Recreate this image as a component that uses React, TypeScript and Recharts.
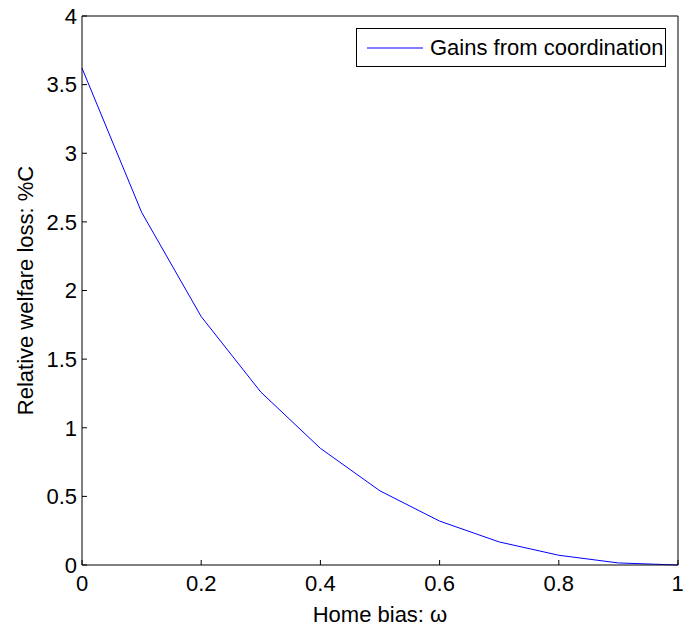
import { LineChart, Line, XAxis, YAxis, Legend } from "recharts";

// home bias omega and the welfare gain from coordination (% of consumption)
const homeBias = [0, 0.1, 0.2, 0.3, 0.4, 0.5, 0.6, 0.7, 0.8, 0.9, 1];
const gains = [3.62, 2.57, 1.81, 1.26, 0.85, 0.54, 0.32, 0.168, 0.071, 0.015, 0];

const xTicks = [0, 0.2, 0.4, 0.6, 0.8, 1];
const yTicks = [0, 0.5, 1, 1.5, 2, 2.5, 3, 3.5, 4];

const data = homeBias.map((w, i) => ({ w, gain: gains[i] }));

const font = "'Liberation Sans', Arial, Helvetica, sans-serif";
const tickStyle = { fill: "#000", fontSize: 22, fontFamily: font };

function LegendBox() {
  return (
    <div
      style={{
        width: 308,
        height: 37,
        border: "1px solid #000",
        background: "#fff",
        display: "flex",
        alignItems: "center",
        fontFamily: font,
        fontSize: 22,
        color: "#000",
      }}
    >
      <svg width={70} height={10} style={{ marginLeft: 10 }}>
        <line x1={0} y1={5} x2={56} y2={5} stroke="#0000ff" strokeWidth={1} />
      </svg>
      <span style={{ marginLeft: -7 }}>Gains from coordination</span>
    </div>
  );
}

export default function App() {
  return (
    <div style={{ width: 683, height: 631, background: "#fff" }}>
      <style>{`body{margin:0}`}</style>
      <LineChart
        width={683}
        height={631}
        data={data}
        margin={{ top: 15, right: 4, bottom: 0, left: 0 }}
      >
        <XAxis
          dataKey="w"
          type="number"
          domain={[0, 1]}
          ticks={xTicks}
          tickFormatter={(v) => String(v)}
          height={66}
          axisLine={{ stroke: "#000" }}
          tickLine={{ stroke: "#000" }}
          tickSize={-5}
          tickMargin={15}
          tick={tickStyle}
          label={{
            value: "Home bias: ω",
            position: "insideBottom",
            offset: 9,
            style: { fill: "#000", fontSize: 22, fontFamily: font },
          }}
        />
        <XAxis
          xAxisId="top"
          dataKey="w"
          type="number"
          orientation="top"
          domain={[0, 1]}
          ticks={xTicks}
          height={1}
          tick={false}
          axisLine={{ stroke: "#000" }}
          tickLine={{ stroke: "#000" }}
          tickSize={-5}
        />
        <YAxis
          type="number"
          domain={[0, 4]}
          ticks={yTicks}
          width={82}
          axisLine={{ stroke: "#000" }}
          tickLine={{ stroke: "#000" }}
          tickSize={-5}
          tickMargin={10}
          tick={tickStyle}
          label={{
            value: "Relative welfare loss: %C",
            angle: -90,
            position: "insideLeft",
            offset: 25,
            style: { fill: "#000", fontSize: 22, fontFamily: font, textAnchor: "middle" },
          }}
        />
        <YAxis
          yAxisId="right"
          orientation="right"
          type="number"
          domain={[0, 4]}
          ticks={yTicks}
          width={1}
          tick={false}
          axisLine={{ stroke: "#000" }}
          tickLine={{ stroke: "#000" }}
          tickSize={-5}
        />
        <Legend
          content={<LegendBox />}
          layout="horizontal"
          verticalAlign="middle"
          align="center"
          wrapperStyle={{ top: 28, left: 356, width: 310 }}
        />
        <Line
          dataKey="gain"
          stroke="#0000ff"
          strokeWidth={1}
          dot={false}
          isAnimationActive={false}
        />
      </LineChart>
    </div>
  );
}
